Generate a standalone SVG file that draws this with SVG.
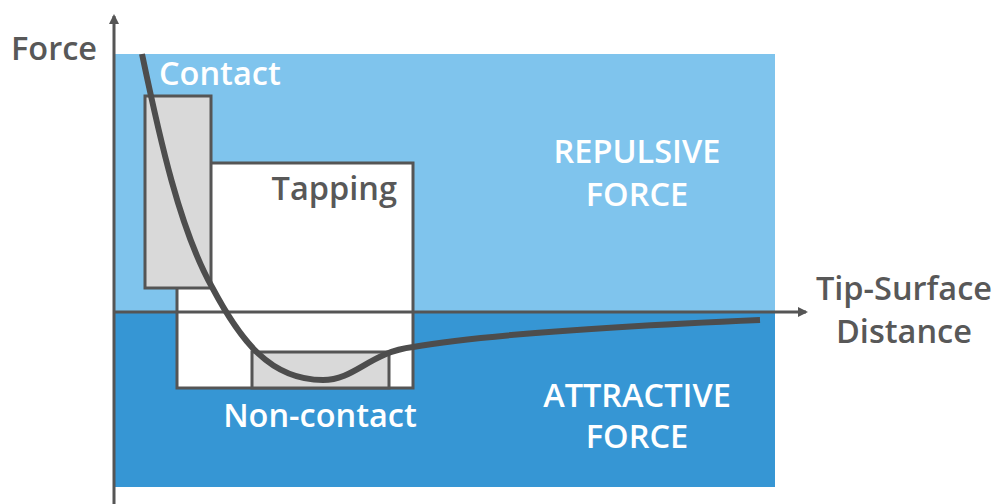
<svg xmlns="http://www.w3.org/2000/svg" width="997" height="504" viewBox="0 0 997 504">
  <style>
    text { font-family: "Open Sans", "Liberation Sans", sans-serif; font-weight: 600; font-size: 32.5px; }
    .light { fill: #ffffff; }
    .dark { fill: #585858; }
    .box { stroke: #555555; stroke-width: 3; }
    .axis { stroke: #555555; stroke-width: 3; fill: none; }
  </style>
  <defs>
    <marker id="arrow" markerWidth="10" markerHeight="10" refX="8" refY="5" orient="auto" markerUnits="userSpaceOnUse">
      <path d="M0,0 L10,5 L0,10 Z" fill="#555555"/>
    </marker>
  </defs>

  <!-- force regions -->
  <g id="repulsive">
    <rect x="115" y="54" width="660" height="258" fill="#7fc4ed"/>
    <text class="light" x="637" y="163" text-anchor="middle">REPULSIVE</text>
    <text class="light" x="637" y="206" text-anchor="middle">FORCE</text>
  </g>
  <g id="attractive">
    <rect x="115" y="312" width="660" height="175" fill="#3696d4"/>
    <text class="light" x="637" y="407" text-anchor="middle">ATTRACTIVE</text>
    <text class="light" x="637" y="448" text-anchor="middle">FORCE</text>
  </g>

  <!-- operating modes -->
  <g id="tapping">
    <rect class="box" x="177" y="163" width="236" height="225" fill="#ffffff"/>
    <text class="dark" x="397" y="200" text-anchor="end">Tapping</text>
  </g>
  <g id="noncontact">
    <rect class="box" x="252" y="352" width="137" height="36" fill="#d9d9d9"/>
    <text class="light" x="320" y="427" text-anchor="middle">Non-contact</text>
  </g>
  <g id="contact">
    <rect class="box" x="145" y="96" width="66" height="192" fill="#d9d9d9"/>
    <text class="light" x="159" y="85">Contact</text>
  </g>

  <!-- axes and force curve -->
  <g id="connectors">
    <line class="axis" x1="114" y1="504" x2="114" y2="16" marker-end="url(#arrow)"/>
    <line class="axis" x1="114" y1="312" x2="806" y2="312" marker-end="url(#arrow)"/>
    <path d="M142,54 C160,140 180,230 212,287 C240,340 270,380 323,380 C355,380 370,352 413,347 C480,335 620,326 760,320" fill="none" stroke="#4d4d4d" stroke-width="6"/>
  </g>

  <!-- axis labels -->
  <g id="axis-labels">
    <text class="dark" x="11" y="60">Force</text>
    <text class="dark" x="904" y="300" text-anchor="middle">Tip-Surface</text>
    <text class="dark" x="904" y="343" text-anchor="middle">Distance</text>
  </g>
</svg>
